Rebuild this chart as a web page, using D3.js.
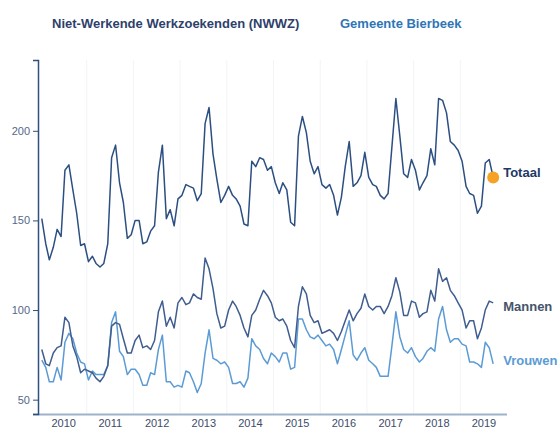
<!DOCTYPE html>
<html>
<head>
<meta charset="utf-8">
<script src="https://cdn.jsdelivr.net/npm/d3@7"></script>
<style>
  body { margin: 0; background: #fff; }
  svg text { font-family: "Liberation Sans", Arial, sans-serif; }
</style>
</head>
<body>
<div id="chart"></div>
<script>
// maandcijfers NWWZ Bierbeek, jan 2010 - sep 2019
const startMonth = new Date(2010, 0, 15);
const years = [2010, 2011, 2012, 2013, 2014, 2015, 2016, 2017, 2018, 2019];
const yTicks = [50, 100, 150, 200];

const totaal = [151,137,128,135,145,141,178,181,167,154,136,137,
  127,130,126,124,126,137,185,192,171,160,140,142,
  150,150,137,138,144,147,177,192,151,156,147,162,
  164,170,169,168,161,165,204,213,187,173,160,164,
  169,164,162,158,148,147,183,180,185,184,178,180,
  171,165,171,167,149,147,197,208,199,183,176,180,
  170,168,170,164,153,163,180,194,169,171,175,188,
  174,170,169,164,162,165,191,218,197,176,174,184,
  178,167,171,175,190,181,218,217,210,194,192,189,
  183,169,165,164,154,158,182,184,174];

const mannen = [78,70,69,76,79,80,96,93,80,74,65,67,
  66,65,62,60,63,69,91,93,92,84,76,76,
  83,86,79,80,78,83,99,105,91,96,90,104,
  107,103,104,109,107,106,129,123,112,98,90,91,
  100,105,102,97,90,85,97,100,106,111,108,104,
  96,94,95,91,83,79,102,113,109,97,93,94,
  87,88,89,87,83,88,94,100,94,98,101,109,
  102,100,102,102,98,102,108,118,110,97,97,105,
  104,96,98,99,111,105,123,116,118,111,108,104,
  100,90,94,94,84,90,100,105,104];

const vrouwen = [72,68,60,60,68,61,82,87,84,76,71,70,
  61,66,64,64,64,69,93,99,77,74,64,67,
  67,64,58,58,65,64,78,86,60,60,57,58,
  57,66,65,60,54,59,76,89,73,72,70,71,
  68,59,59,60,57,62,84,80,78,73,70,76,
  74,71,76,76,67,68,95,95,89,85,84,86,
  83,80,81,78,70,78,86,94,75,72,76,79,
  72,70,68,63,63,63,80,99,85,78,76,79,
  74,71,73,77,79,77,95,102,89,82,84,84,
  81,80,71,71,70,68,82,79,70];

const width = 560, height = 429;
const margin = {top: 60, right: 53, bottom: 15, left: 38};

const svg = d3.select('#chart').append('svg')
  .attr('width', width)
  .attr('height', height);

const months = totaal.map((_, i) => d3.timeMonth.offset(startMonth, i));

const x = d3.scaleTime()
  .domain([new Date(2010, 0, 1), new Date(2020, 0, 1)])
  .range([margin.left + 2, width - margin.right]);

const y = d3.scaleLinear()
  .domain([42, 239.5])
  .range([height - margin.bottom, margin.top]);

// lichte verticale lijnen per jaar
svg.append('g')
  .selectAll('line')
  .data(years.slice(1))
  .join('line')
  .attr('x1', d => x(new Date(d, 0, 1)))
  .attr('x2', d => x(new Date(d, 0, 1)))
  .attr('y1', margin.top)
  .attr('y2', height - margin.bottom)
  .attr('stroke', '#f3f4f7')
  .attr('stroke-width', 1);

// x as: jaartallen midden in het jaar
const xAxis = svg.append('g')
  .attr('transform', `translate(0,${height - margin.bottom})`)
  .call(d3.axisBottom(x)
    .tickValues(years.map(d => new Date(d, 6, 1)))
    .tickFormat(d3.timeFormat('%Y'))
    .tickSize(0)
    .tickSizeOuter(0));
xAxis.select('.domain')
  .attr('d', `M${margin.left - 5},0.5H${width - margin.right}`)
  .attr('stroke', '#9fb2cc')
  .attr('stroke-width', 2);
xAxis.selectAll('text')
  .attr('dy', '0.95em')
  .attr('fill', '#3d4b6b')
  .style('font-size', '11px');

// y as
const yAxis = svg.append('g')
  .attr('transform', `translate(${margin.left},0)`)
  .call(d3.axisLeft(y).tickValues(yTicks).tickSize(5).tickSizeOuter(5));
yAxis.select('.domain').attr('stroke', '#2f4f80').attr('stroke-width', 1.5);
yAxis.selectAll('.tick line').attr('stroke', '#2f4f80');
yAxis.selectAll('text')
  .attr('x', -8)
  .attr('fill', '#55678a')
  .style('font-size', '11px');

const series = [
  {name: 'Vrouwen', values: vrouwen, color: '#5b9bd5', label: '#5b9bd5', dy: 1},
  {name: 'Mannen', values: mannen, color: '#3f5d8f', label: '#44546a', dy: 8},
  {name: 'Totaal', values: totaal, color: '#2c4f82', label: '#203864', dy: 0}
];

const line = d3.line()
  .x((d, i) => x(months[i]))
  .y(d => y(d));

svg.append('g')
  .selectAll('path')
  .data(series)
  .join('path')
  .attr('fill', 'none')
  .attr('stroke', d => d.color)
  .attr('stroke-width', 1.5)
  .attr('stroke-linejoin', 'round')
  .attr('d', d => line(d.values));

// punt op laatste waarde totaal
const last = totaal.length - 1;
svg.append('circle')
  .attr('cx', x(months[last]))
  .attr('cy', y(totaal[last]))
  .attr('r', 6)
  .attr('fill', '#f5a326');

svg.append('g')
  .selectAll('text')
  .data(series)
  .join('text')
  .attr('x', x(months[last]) + 10)
  .attr('y', d => y(d.values[last]) + d.dy)
  .attr('fill', d => d.label)
  .style('font-size', '13px')
  .style('font-weight', 'bold')
  .text(d => d.name);

// titels
svg.append('text')
  .attr('x', 52).attr('y', 28)
  .attr('fill', '#2e3f6b')
  .style('font-size', '13px').style('font-weight', 'bold')
  .text('Niet-Werkende Werkzoekenden (NWWZ)');

svg.append('text')
  .attr('x', 340).attr('y', 28)
  .attr('fill', '#2e75b6')
  .style('font-size', '13px').style('font-weight', 'bold')
  .text('Gemeente Bierbeek');
</script>
</body>
</html>
